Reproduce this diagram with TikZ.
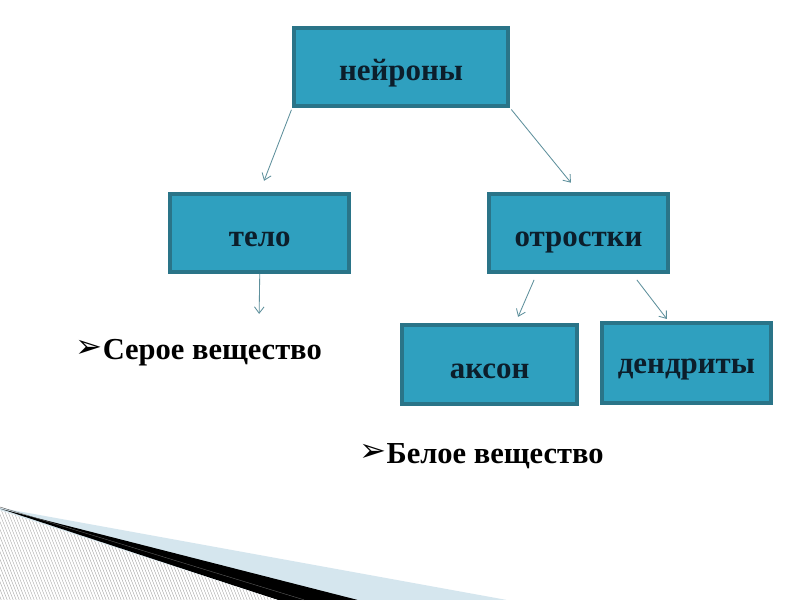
\documentclass[tikz,border=0pt]{standalone}
\usepackage{fontspec}
\setmainfont{Liberation Serif}
\newfontfamily\symfont{DejaVu Sans}
\usepackage{tikz}
\usetikzlibrary{arrows.meta, positioning}
\definecolor{boxfill}{HTML}{2FA0BF}
\definecolor{boxline}{HTML}{2A7488}
\definecolor{boxtext}{HTML}{0C1E2B}
\definecolor{linkcol}{HTML}{5E909C}
\definecolor{wedgeblue}{HTML}{D5E6EE}
\newcommand{\bulletarrow}{\raisebox{2pt}{\symfont\fontsize{23}{25}\selectfont ➢}}

\begin{document}
\begin{tikzpicture}[
    cell/.style  = {rectangle, draw=boxline, line width=2.8pt, fill=boxfill,
                    minimum height=1.95cm, align=center, text=boxtext,
                    text height=0.7cm, text depth=0pt,
                    font=\fontsize{22}{26}\selectfont\bfseries},
    item/.style  = {anchor=base west, inner sep=0pt, text=black,
                    font=\fontsize{21.7}{25}\selectfont\bfseries},
    link/.style  = {-{Straight Barb[length=1.6mm, width=2.4mm]}, line width=0.6pt,
                    color=linkcol}
  ]

  % ── Page ───────────────────────────────────────────────────────────────────
  \path[fill=white] (0,0) rectangle (20,-15);

  % ── Corner decoration ──────────────────────────────────────────────────────
  \fill[wedgeblue] (0,-12.70) -- (12.65,-15) -- (0,-15) -- cycle;
  \fill[black]     (0,-12.72) -- (8.93,-15) -- (6.93,-15) -- cycle;
  \fill[white]     (0,-12.76) -- (6.93,-15) -- (0,-15) -- cycle;
  \begin{scope}
    \clip (0,-12.76) -- (6.93,-15) -- (0,-15) -- cycle;
    \foreach \x in {-1.2,-1.125,...,7.0}
      \draw[gray!75, line width=0.25pt] (\x,-12.5) -- (\x+1.0,-15);
  \end{scope}
  \draw[gray!70!black, line width=0.3pt] (0,-12.68) -- (7.6,-15);

  % ── Boxes ──────────────────────────────────────────────────────────────────
  \node[cell, minimum width=5.35cm]                          (neurony)  at (10.025,-1.675) {нейроны};
  \node[cell, minimum width=4.475cm]                         (telo)     at ( 6.49, -5.825) {тело};
  \node[cell, minimum width=4.475cm]                         (otrostki) at (14.46, -5.825) {отростки};
  \node[cell, minimum width=4.375cm, minimum height=1.975cm] (akson)    at (12.24, -9.11)  {аксон};
  \node[cell, minimum width=4.225cm, minimum height=2.0cm,
        text height=0.55cm]                                  (dendrity) at (17.16, -9.075) {дендриты};

  % ── Bullet texts ───────────────────────────────────────────────────────────
  \node[item] (seroe) at (1.88, -9.0)  {\bulletarrow Серое вещество};
  \node[item] (beloe) at (8.98, -11.6) {\bulletarrow Белое вещество};

  % ── Arrows ─────────────────────────────────────────────────────────────────
  \coordinate (teloend) at (6.475,-7.85);
  \draw[link, shorten <=0.05cm, shorten >=0.3cm] (neurony.south west) -- (telo.north);
  \draw[link, shorten <=0.05cm, shorten >=0.3cm] (neurony.south east) -- (otrostki.north);
  \draw[link] (telo.south) -- (teloend);
  \draw[link] ([xshift=-1.11cm, yshift=-0.15cm]otrostki.south) -- ([xshift=0.71cm, yshift=0.15cm]akson.north);
  \draw[link] ([xshift=1.46cm, yshift=-0.15cm]otrostki.south) -- ([xshift=-0.49cm, yshift=0.05cm]dendrity.north);

\end{tikzpicture}
\end{document}
